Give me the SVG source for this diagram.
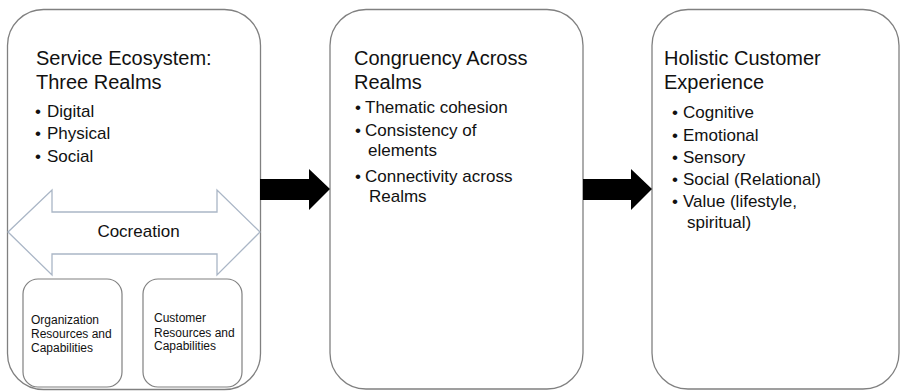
<svg xmlns="http://www.w3.org/2000/svg" width="901" height="391" viewBox="0 0 901 391">
<style>
.box{fill:#fff;stroke:#808080;stroke-width:1.3}
.sbox{fill:#fff;stroke:#808080;stroke-width:1.2}
.t{font-family:"Liberation Sans",Arial,Helvetica,sans-serif;fill:#111}
.title{font-size:20px}
.b{font-size:17px}
.s{font-size:12px}
.conn{fill:#000;stroke:none}
.co{fill:#fff;stroke:#aab6c6;stroke-width:1.3}
</style>
<rect width="901" height="391" fill="#fff"/>
<g id="box1">
<rect class="box" x="7.5" y="9.5" width="253" height="380" rx="36" ry="36"/>
<text class="t title" x="36" y="65">Service Ecosystem:</text>
<text class="t title" x="36" y="89">Three Realms</text>
<text class="t b" x="35" y="117">•</text><text class="t b" x="47" y="117">Digital</text>
<text class="t b" x="35" y="139">•</text><text class="t b" x="47" y="139">Physical</text>
<text class="t b" x="35" y="162">•</text><text class="t b" x="47" y="162">Social</text>
</g>
<g id="cocreation">
<polygon class="co" points="8,232 52,190 52,212 217,212 217,190 260,232 217,275 217,254 52,254 52,275"/>
<text class="t b" x="138.5" y="237" text-anchor="middle">Cocreation</text>
</g>
<g id="org">
<rect class="sbox" x="23" y="279" width="99" height="108" rx="15" ry="15"/>
<text class="t s" x="31" y="324">Organization</text>
<text class="t s" x="31" y="338">Resources and</text>
<text class="t s" x="31" y="352">Capabilities</text>
</g>
<g id="cust">
<rect class="sbox" x="143" y="279" width="99" height="108" rx="15" ry="15"/>
<text class="t s" x="154" y="322">Customer</text>
<text class="t s" x="154" y="337">Resources and</text>
<text class="t s" x="154" y="350">Capabilities</text>
</g>
<g id="box2">
<rect class="box" x="330" y="9.5" width="253" height="379.5" rx="36" ry="36"/>
<text class="t title" x="354" y="65">Congruency Across</text>
<text class="t title" x="354" y="89">Realms</text>
<text class="t b" x="355" y="113">•</text><text class="t b" x="365" y="113">Thematic cohesion</text>
<text class="t b" x="355" y="136">•</text><text class="t b" x="365" y="136">Consistency of</text>
<text class="t b" x="368" y="156">elements</text>
<text class="t b" x="355" y="182">•</text><text class="t b" x="365" y="182">Connectivity across</text>
<text class="t b" x="369" y="202">Realms</text>
</g>
<g id="box3">
<rect class="box" x="652" y="9.5" width="247" height="379.5" rx="36" ry="36"/>
<text class="t title" x="664" y="65">Holistic Customer</text>
<text class="t title" x="664" y="89">Experience</text>
<text class="t b" x="672" y="118">•</text><text class="t b" x="683" y="118">Cognitive</text>
<text class="t b" x="672" y="141">•</text><text class="t b" x="683" y="141">Emotional</text>
<text class="t b" x="672" y="163">•</text><text class="t b" x="683" y="163">Sensory</text>
<text class="t b" x="672" y="185">•</text><text class="t b" x="683" y="185">Social (Relational)</text>
<text class="t b" x="672" y="207">•</text><text class="t b" x="683" y="207">Value (lifestyle,</text>
<text class="t b" x="687" y="228">spiritual)</text>
</g>
<g id="connectors">
<polygon class="conn" points="260,179 309,179 309,169 330,189 309,210 309,200 260,200"/>
<polygon class="conn" points="583,179 631,179 631,169 652,189 631,210 631,200 583,200"/>
</g>
</svg>
